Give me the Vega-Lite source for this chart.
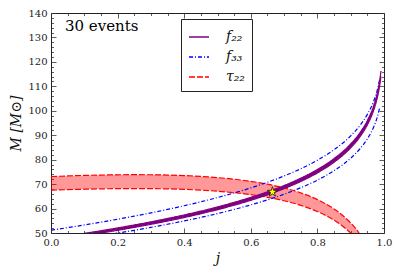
{
  "$schema": "https://vega.github.io/schema/vega-lite/v6.json",
  "autosize": {"type": "none"},
  "padding": {"left": 51, "top": 13, "right": 15, "bottom": 41},
  "width": 333,
  "height": 220,
  "background": "white",
  "config": {
    "view": {"stroke": "#222", "strokeWidth": 1},
    "axis": {
      "domain": false,
      "grid": false,
      "labelFont": "DejaVu Serif",
      "labelFontSize": 10,
      "labelColor": "#222",
      "tickColor": "#333",
      "tickWidth": 0.8,
      "titleFont": "DejaVu Serif",
      "titleFontStyle": "italic",
      "titleFontWeight": "normal",
      "titleFontSize": 14,
      "titleColor": "#111"
    },
    "legend": {
      "labelFont": "DejaVu Serif",
      "labelFontStyle": "italic",
      "labelFontSize": 14,
      "labelColor": "#111"
    }
  },
  "datasets": {
    "curves": [
      {"s": "τ₂₂", "j": 0.0, "lo": 67.5, "hi": 73.1},
      {"s": "τ₂₂", "j": 0.05, "lo": 67.73, "hi": 73.34},
      {"s": "τ₂₂", "j": 0.1, "lo": 67.91, "hi": 73.55},
      {"s": "τ₂₂", "j": 0.15, "lo": 68.06, "hi": 73.7},
      {"s": "τ₂₂", "j": 0.2, "lo": 68.16, "hi": 73.81},
      {"s": "τ₂₂", "j": 0.25, "lo": 68.19, "hi": 73.85},
      {"s": "τ₂₂", "j": 0.3, "lo": 68.16, "hi": 73.82},
      {"s": "τ₂₂", "j": 0.35, "lo": 68.05, "hi": 73.7},
      {"s": "τ₂₂", "j": 0.4, "lo": 67.85, "hi": 73.48},
      {"s": "τ₂₂", "j": 0.45, "lo": 67.54, "hi": 73.15},
      {"s": "τ₂₂", "j": 0.5, "lo": 67.1, "hi": 72.66},
      {"s": "τ₂₂", "j": 0.55, "lo": 66.49, "hi": 72.01},
      {"s": "τ₂₂", "j": 0.6, "lo": 65.68, "hi": 71.12},
      {"s": "τ₂₂", "j": 0.65, "lo": 64.61, "hi": 69.97},
      {"s": "τ₂₂", "j": 0.7, "lo": 63.19, "hi": 68.44},
      {"s": "τ₂₂", "j": 0.75, "lo": 61.32, "hi": 66.41},
      {"s": "τ₂₂", "j": 0.8, "lo": 58.78, "hi": 63.66},
      {"s": "τ₂₂", "j": 0.825, "lo": 57.18, "hi": 61.92},
      {"s": "τ₂₂", "j": 0.85, "lo": 55.25, "hi": 59.83},
      {"s": "τ₂₂", "j": 0.875, "lo": 52.9, "hi": 57.28},
      {"s": "τ₂₂", "j": 0.9, "lo": 49.96, "hi": 54.11},
      {"s": "τ₂₂", "j": 0.925, "lo": 46.15, "hi": 49.98},
      {"s": "τ₂₂", "j": 0.95, "lo": 40.87, "hi": 44.26},
      {"s": "f₃₃", "j": 0.0, "lo": 45.94, "hi": 51.15},
      {"s": "f₃₃", "j": 0.05, "lo": 46.88, "hi": 52.19},
      {"s": "f₃₃", "j": 0.1, "lo": 47.87, "hi": 53.29},
      {"s": "f₃₃", "j": 0.15, "lo": 48.89, "hi": 54.43},
      {"s": "f₃₃", "j": 0.2, "lo": 49.97, "hi": 55.63},
      {"s": "f₃₃", "j": 0.25, "lo": 51.11, "hi": 56.9},
      {"s": "f₃₃", "j": 0.3, "lo": 52.31, "hi": 58.23},
      {"s": "f₃₃", "j": 0.35, "lo": 53.58, "hi": 59.65},
      {"s": "f₃₃", "j": 0.4, "lo": 54.93, "hi": 61.15},
      {"s": "f₃₃", "j": 0.45, "lo": 56.38, "hi": 62.77},
      {"s": "f₃₃", "j": 0.5, "lo": 57.94, "hi": 64.5},
      {"s": "f₃₃", "j": 0.55, "lo": 59.64, "hi": 66.39},
      {"s": "f₃₃", "j": 0.6, "lo": 61.5, "hi": 68.46},
      {"s": "f₃₃", "j": 0.65, "lo": 63.55, "hi": 70.75},
      {"s": "f₃₃", "j": 0.7, "lo": 65.87, "hi": 73.33},
      {"s": "f₃₃", "j": 0.75, "lo": 68.52, "hi": 76.28},
      {"s": "f₃₃", "j": 0.8, "lo": 71.65, "hi": 79.77},
      {"s": "f₃₃", "j": 0.85, "lo": 75.51, "hi": 84.06},
      {"s": "f₃₃", "j": 0.9, "lo": 80.61, "hi": 89.74},
      {"s": "f₃₃", "j": 0.93, "lo": 84.79, "hi": 94.4},
      {"s": "f₃₃", "j": 0.95, "lo": 88.5, "hi": 98.53},
      {"s": "f₃₃", "j": 0.97, "lo": 93.71, "hi": 104.33},
      {"s": "f₃₃", "j": 0.98, "lo": 97.52, "hi": 108.57},
      {"s": "f₃₃", "j": 0.987, "lo": 101.27, "hi": 112.74},
      {"s": "f₂₂", "j": 0.05, "lo": 47.9, "hi": 48.8},
      {"s": "f₂₂", "j": 0.1, "lo": 48.9, "hi": 49.84},
      {"s": "f₂₂", "j": 0.15, "lo": 49.97, "hi": 50.93},
      {"s": "f₂₂", "j": 0.2, "lo": 51.1, "hi": 52.08},
      {"s": "f₂₂", "j": 0.25, "lo": 52.29, "hi": 53.29},
      {"s": "f₂₂", "j": 0.3, "lo": 53.55, "hi": 54.57},
      {"s": "f₂₂", "j": 0.35, "lo": 54.89, "hi": 55.95},
      {"s": "f₂₂", "j": 0.4, "lo": 56.32, "hi": 57.4},
      {"s": "f₂₂", "j": 0.45, "lo": 57.87, "hi": 58.97},
      {"s": "f₂₂", "j": 0.5, "lo": 59.54, "hi": 60.68},
      {"s": "f₂₂", "j": 0.55, "lo": 61.36, "hi": 62.54},
      {"s": "f₂₂", "j": 0.6, "lo": 63.36, "hi": 64.58},
      {"s": "f₂₂", "j": 0.65, "lo": 65.6, "hi": 66.86},
      {"s": "f₂₂", "j": 0.7, "lo": 68.14, "hi": 69.44},
      {"s": "f₂₂", "j": 0.75, "lo": 71.08, "hi": 72.44},
      {"s": "f₂₂", "j": 0.8, "lo": 74.57, "hi": 75.99},
      {"s": "f₂₂", "j": 0.85, "lo": 78.94, "hi": 80.46},
      {"s": "f₂₂", "j": 0.9, "lo": 84.84, "hi": 86.46},
      {"s": "f₂₂", "j": 0.93, "lo": 89.76, "hi": 91.48},
      {"s": "f₂₂", "j": 0.95, "lo": 94.21, "hi": 96.01},
      {"s": "f₂₂", "j": 0.97, "lo": 100.6, "hi": 102.52},
      {"s": "f₂₂", "j": 0.98, "lo": 105.38, "hi": 107.4},
      {"s": "f₂₂", "j": 0.985, "lo": 108.66, "hi": 110.74},
      {"s": "f₂₂", "j": 0.991, "lo": 114.09, "hi": 116.27}
    ]
  },
  "resolve": {"axis": {"x": "independent", "y": "independent"}},
  "layer": [
    {
      "data": {"name": "curves"},
      "transform": [{"filter": "datum.s === 'τ₂₂'"}],
      "mark": {"type": "area", "color": "#ff0000", "opacity": 0.4, "clip": true, "interpolate": "monotone"},
      "encoding": {
        "x": {
          "field": "j", "type": "quantitative",
          "scale": {"domain": [0, 1], "nice": false, "zero": false},
          "axis": {
            "orient": "bottom",
            "title": "j",
            "values": [0, 0.05, 0.1, 0.15, 0.2, 0.25, 0.3, 0.35, 0.4, 0.45, 0.5, 0.55, 0.6, 0.65, 0.7, 0.75, 0.8, 0.85, 0.9, 0.95, 1],
            "labelExpr": "abs(datum.value*5 - round(datum.value*5)) < 0.000001 ? format(datum.value, '.1f') : ''",
            "tickSize": {"condition": {"test": "abs(datum.value*5 - round(datum.value*5)) < 0.000001", "value": -5}, "value": -2.5},
            "labelPadding": 9,
            "labelFlush": false,
            "labelOverlap": false,
            "titlePadding": 2
          }
        },
        "y": {
          "field": "lo", "type": "quantitative",
          "scale": {"domain": [50, 140], "nice": false, "zero": false},
          "axis": {
            "orient": "left",
            "title": "M [M⊙]",
            "values": [50, 52, 54, 56, 58, 60, 62, 64, 66, 68, 70, 72, 74, 76, 78, 80, 82, 84, 86, 88, 90, 92, 94, 96, 98, 100, 102, 104, 106, 108, 110, 112, 114, 116, 118, 120, 122, 124, 126, 128, 130, 132, 134, 136, 138, 140],
            "labelExpr": "datum.value % 10 === 0 ? datum.label : ''",
            "tickSize": {"condition": {"test": "datum.value % 10 === 0", "value": -5}, "value": -2.5},
            "labelPadding": 9,
            "labelFlush": false,
            "labelOverlap": false,
            "titlePadding": 4
          }
        },
        "y2": {"field": "hi"}
      }
    },
    {
      "data": {"name": "curves"},
      "mark": {"type": "line", "clip": true, "strokeWidth": 1.2, "interpolate": "monotone"},
      "encoding": {
        "x": {"field": "j", "type": "quantitative", "axis": null},
        "y": {"field": "lo", "type": "quantitative", "axis": null},
        "color": {
          "field": "s", "type": "nominal",
          "scale": {"domain": ["f₂₂", "f₃₃", "τ₂₂"], "range": ["#800080", "#0000ff", "#ff0000"]},
          "legend": {
            "title": null,
            "orient": "none",
            "legendX": 130,
            "legendY": 6,
            "strokeColor": "#222",
            "fillColor": "white",
            "padding": 7,
            "symbolType": "stroke",
            "symbolSize": 400,
            "symbolStrokeWidth": 1.5,
            "labelOffset": 16,
            "rowPadding": 2
          }
        },
        "strokeDash": {
          "field": "s", "type": "nominal",
          "scale": {"domain": ["f₂₂", "f₃₃", "τ₂₂"], "range": [[1, 0], [4, 2, 1, 2], [6, 2]]},
          "legend": {
            "title": null,
            "orient": "none",
            "legendX": 130,
            "legendY": 6,
            "strokeColor": "#222",
            "fillColor": "white",
            "padding": 7,
            "symbolType": "stroke",
            "symbolSize": 400,
            "symbolStrokeWidth": 1.5,
            "labelOffset": 16,
            "rowPadding": 2
          }
        },
        "detail": {"field": "s"}
      }
    },
    {
      "data": {"name": "curves"},
      "mark": {"type": "line", "clip": true, "strokeWidth": 1.2, "interpolate": "monotone"},
      "encoding": {
        "x": {"field": "j", "type": "quantitative", "axis": null},
        "y": {"field": "hi", "type": "quantitative", "axis": null},
        "color": {"field": "s", "type": "nominal"},
        "strokeDash": {"field": "s", "type": "nominal"},
        "detail": {"field": "s"}
      }
    },
    {
      "data": {"name": "curves"},
      "transform": [{"filter": "datum.s === 'f₂₂'"}],
      "mark": {"type": "area", "color": "#800080", "opacity": 1, "clip": true, "interpolate": "monotone"},
      "encoding": {
        "x": {
          "field": "j", "type": "quantitative",
          "axis": {
            "orient": "top", "title": null, "labels": false,
            "values": [0, 0.05, 0.1, 0.15, 0.2, 0.25, 0.3, 0.35, 0.4, 0.45, 0.5, 0.55, 0.6, 0.65, 0.7, 0.75, 0.8, 0.85, 0.9, 0.95, 1],
            "tickSize": {"condition": {"test": "abs(datum.value*5 - round(datum.value*5)) < 0.000001", "value": -5}, "value": -2.5}
          }
        },
        "y": {
          "field": "lo", "type": "quantitative",
          "axis": {
            "orient": "right", "title": null, "labels": false,
            "values": [50, 52, 54, 56, 58, 60, 62, 64, 66, 68, 70, 72, 74, 76, 78, 80, 82, 84, 86, 88, 90, 92, 94, 96, 98, 100, 102, 104, 106, 108, 110, 112, 114, 116, 118, 120, 122, 124, 126, 128, 130, 132, 134, 136, 138, 140],
            "tickSize": {"condition": {"test": "datum.value % 10 === 0", "value": -5}, "value": -2.5}
          }
        },
        "y2": {"field": "hi"}
      }
    },
    {
      "data": {"values": [{"j": 0.665, "M": 66.8}]},
      "mark": {
        "type": "point", "filled": true, "fill": "#ffff00", "stroke": "#000", "strokeWidth": 0.7, "opacity": 1, "size": 110,
        "shape": "M0,-1L0.2245,-0.309L0.951,-0.309L0.3633,0.118L0.588,0.809L0,0.382L-0.588,0.809L-0.3633,0.118L-0.951,-0.309L-0.2245,-0.309Z"
      },
      "encoding": {
        "x": {"field": "j", "type": "quantitative", "axis": null},
        "y": {"field": "M", "type": "quantitative", "axis": null}
      }
    },
    {
      "data": {"values": [{"j": 0.042, "M": 134.7, "label": "30 events"}]},
      "mark": {"type": "text", "align": "left", "baseline": "middle", "font": "DejaVu Serif", "fontSize": 15, "color": "#000"},
      "encoding": {
        "x": {"field": "j", "type": "quantitative", "axis": null},
        "y": {"field": "M", "type": "quantitative", "axis": null},
        "text": {"field": "label"}
      }
    }
  ]
}
